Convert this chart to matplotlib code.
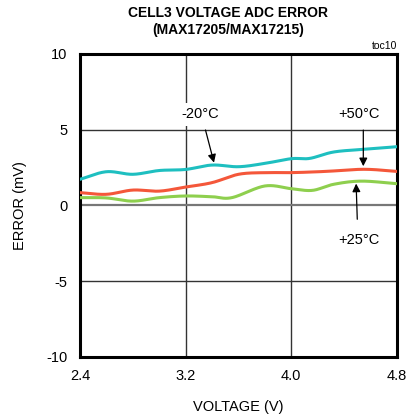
import numpy as np
import matplotlib.pyplot as plt

plt.rcParams['font.family'] = ['Liberation Sans', 'DejaVu Sans']
plt.rcParams['axes.unicode_minus'] = False

# voltage (V) vs error (mV)
v_m20 = [2.4, 2.6, 2.8, 3.0, 3.2, 3.4, 3.6, 3.8, 4.0, 4.14, 4.32, 4.55, 4.8]
e_m20 = [1.72, 2.22, 2.05, 2.3, 2.37, 2.66, 2.55, 2.77, 3.08, 3.1, 3.52, 3.7, 3.87]

v_p50 = [2.4, 2.6, 2.8, 3.0, 3.2, 3.4, 3.6, 3.8, 4.0, 4.26, 4.55, 4.8]
e_p50 = [0.84, 0.73, 1.01, 0.94, 1.21, 1.5, 2.05, 2.16, 2.16, 2.24, 2.38, 2.24]

v_p25 = [2.4, 2.6, 2.8, 3.0, 3.2, 3.4, 3.55, 3.8, 4.0, 4.16, 4.32, 4.53, 4.8]
e_p25 = [0.51, 0.49, 0.28, 0.51, 0.62, 0.57, 0.51, 1.28, 1.1, 0.99, 1.39, 1.6, 1.43]

xticks = [2.4, 3.2, 4.0, 4.8]
xtick_labels = ['2.4', '3.2', '4.0', '4.8']
yticks = [-10, -5, 0, 5, 10]


def smooth(xs, ys):
    # Catmull-Rom curve through the read points
    xs = np.asarray(xs, float)
    ys = np.asarray(ys, float)
    px = np.concatenate([[2 * xs[0] - xs[1]], xs, [2 * xs[-1] - xs[-2]]])
    py = np.concatenate([[2 * ys[0] - ys[1]], ys, [2 * ys[-1] - ys[-2]]])
    ox, oy = [], []
    for i in range(1, len(px) - 2):
        t = np.linspace(0, 1, 30, endpoint=False)
        for arr, out in ((px, ox), (py, oy)):
            p0, p1, p2, p3 = arr[i - 1], arr[i], arr[i + 1], arr[i + 2]
            out.extend(0.5 * ((2 * p1) + (-p0 + p2) * t
                              + (2 * p0 - 5 * p1 + 4 * p2 - p3) * t ** 2
                              + (-p0 + 3 * p1 - 3 * p2 + p3) * t ** 3))
    ox.append(xs[-1])
    oy.append(ys[-1])
    return np.array(ox), np.array(oy)


fig = plt.figure(figsize=(4.08, 4.17), dpi=100)
ax = fig.add_axes([0.196, 0.144, 0.777, 0.727])

for v in [3.2, 4.0]:
    ax.axvline(v, color='#333333', lw=1.0, zorder=1)
for e in [-5, 5]:
    ax.axhline(e, color='#333333', lw=1.0, zorder=1)
ax.axhline(0, color='#777777', lw=1.6, zorder=1)

for xs, ys, c in [(v_m20, e_m20, '#1ebfc0'),
                  (v_p50, e_p50, '#f4573a'),
                  (v_p25, e_p25, '#8ecf4e')]:
    sx, sy = smooth(xs, ys)
    ax.plot(sx, sy, color=c, lw=2.2, zorder=3)

arrow = dict(arrowstyle='-|>', color='black', lw=0.9, mutation_scale=12)
ax.annotate('', xy=(3.42, 2.64), xytext=(3.345, 5.15), arrowprops=arrow, zorder=4)
ax.annotate('', xy=(4.545, 2.4), xytext=(4.545, 5.15), arrowprops=arrow, zorder=4)
ax.annotate('', xy=(4.49, 1.62), xytext=(4.5, -1.1), arrowprops=arrow, zorder=4)

box = dict(facecolor='white', edgecolor='none', pad=3)
ax.text(3.31, 6.0, '-20°C', ha='center', va='center', fontsize=10.5, bbox=box, zorder=5)
ax.text(4.51, 6.0, '+50°C', ha='center', va='center', fontsize=10.5, bbox=box, zorder=5)
ax.text(4.51, -2.3, '+25°C', ha='center', va='center', fontsize=10.5, zorder=5)

ax.set_xlim(2.4, 4.8)
ax.set_ylim(-10, 10)
ax.set_xticks(xticks)
ax.set_xticklabels(xtick_labels)
ax.set_yticks(yticks)
ax.tick_params(length=0, labelsize=10.5, pad=9)
for s in ax.spines.values():
    s.set_linewidth(2.2)
    s.set_color('black')

ax.set_xlabel('VOLTAGE (V)', fontsize=10.5, labelpad=12)
ax.set_ylabel('ERROR (mV)', fontsize=10.5, labelpad=14)
fig.text(0.56, 0.985, 'CELL3 VOLTAGE ADC ERROR\n(MAX17205/MAX17215)',
         ha='center', va='top', fontsize=10, fontweight='bold', linespacing=1.25)
fig.text(0.973, 0.878, 'toc10', ha='right', va='bottom', fontsize=7.5)

fig.savefig('out.png', dpi=100)
